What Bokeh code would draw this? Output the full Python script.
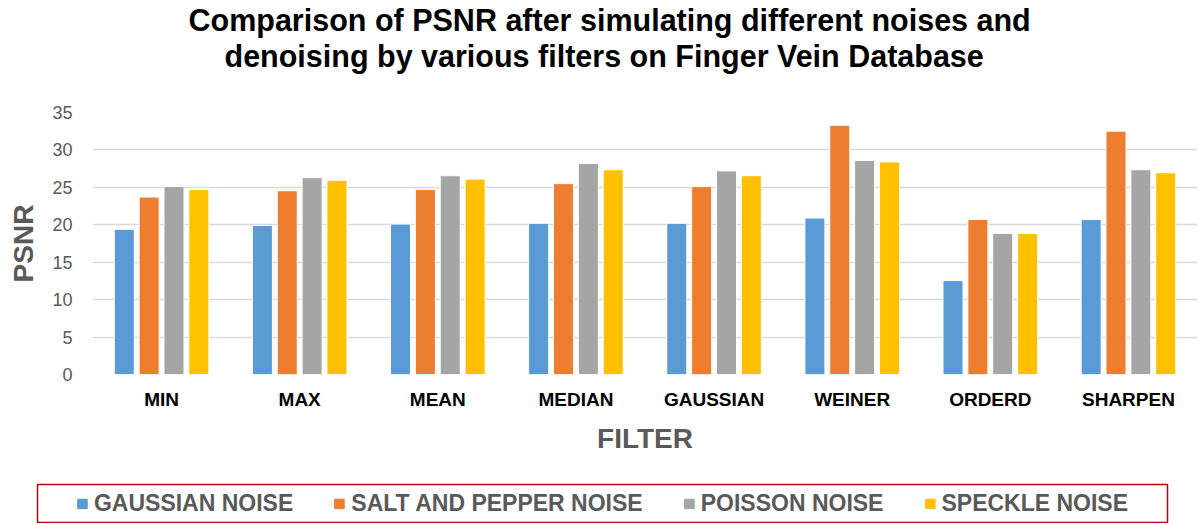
from bokeh.plotting import figure
from bokeh.models import ColumnDataSource, FactorRange, Legend, LegendItem, Title
from bokeh.transform import dodge
from bokeh.embed import file_html
from bokeh.resources import INLINE

filters = ["MIN", "MAX", "MEAN", "MEDIAN", "GAUSSIAN", "WEINER", "ORDERD", "SHARPEN"]
gaussian_noise = [19.4, 19.9, 20.1, 20.2, 20.2, 20.9, 12.55, 20.7]
salt_pepper_noise = [23.7, 24.55, 24.7, 25.5, 25.1, 33.3, 20.7, 32.5]
poisson_noise = [25.1, 26.3, 26.55, 28.2, 27.2, 28.6, 18.85, 27.35]
speckle_noise = [24.7, 25.95, 26.1, 27.35, 26.55, 28.4, 18.85, 26.95]
series_names = ["GAUSSIAN NOISE", "SALT AND PEPPER NOISE", "POISSON NOISE", "SPECKLE NOISE"]
colors = ["#5B9BD5", "#ED7D31", "#A5A5A5", "#FFC000"]
title_lines = ["Comparison of PSNR after simulating different noises and",
               "denoising by various filters  on Finger Vein Database"]

src = ColumnDataSource(dict(f=filters, g=gaussian_noise, s=salt_pepper_noise,
                            p=poisson_noise, k=speckle_noise))
cols = ["g", "s", "p", "k"]

p = figure(width=1197, height=483, x_range=FactorRange(*filters, range_padding=0),
           y_range=(0, 35), output_backend="svg", toolbar_location=None,
           min_border_left=92, min_border_right=0, min_border_top=111,
           min_border_bottom=109, title=None)

# spacer between the frame and the two title lines
p.add_layout(Title(text=" ", text_font_size="10px", standoff=27), "above")
for line, off in reversed(list(zip(title_lines, [96, 132]))):
    p.add_layout(Title(text=line, align="left", offset=off,
                       text_font="Liberation Sans", text_font_size="30.5px",
                       text_font_style="bold", text_color="#000000",
                       text_line_height=0.9, standoff=0), "above")

offsets = [-0.27, -0.09, 0.09, 0.27]
for c, off, col in zip(cols, offsets, colors):
    p.vbar(x=dodge("f", off, range=p.x_range), top=c, width=0.145, source=src,
           fill_color=col, line_color="white", line_width=1)

p.outline_line_color = None
p.xgrid.grid_line_color = None
p.ygrid.grid_line_color = "#D9D9D9"
p.ygrid.grid_line_width = 1.5

p.yaxis.ticker = [0, 5, 10, 15, 20, 25, 30, 35]
p.yaxis.axis_line_color = None
p.yaxis.major_tick_line_color = None
p.yaxis.minor_tick_line_color = None
p.yaxis.major_tick_out = 0
p.yaxis.major_label_text_font = "Liberation Sans"
p.yaxis.major_label_text_font_size = "18px"
p.yaxis.major_label_text_color = "#595959"
p.yaxis.major_label_standoff = 20
p.yaxis.axis_label = "PSNR"
p.yaxis.axis_label_text_font = "Liberation Sans"
p.yaxis.axis_label_text_font_size = "28px"
p.yaxis.axis_label_text_font_style = "bold"
p.yaxis.axis_label_text_color = "#595959"
p.yaxis.axis_label_standoff = 10

p.xaxis.axis_line_color = None
p.xaxis.major_tick_line_color = None
p.xaxis.minor_tick_line_color = None
p.xaxis.major_tick_out = 0
p.xaxis.major_label_text_font = "Liberation Sans"
p.xaxis.major_label_text_font_size = "19px"
p.xaxis.major_label_text_font_style = "bold"
p.xaxis.major_label_text_color = "#000000"
p.xaxis.major_label_standoff = 14
p.xaxis.axis_label = "FILTER"
p.xaxis.axis_label_text_font = "Liberation Sans"
p.xaxis.axis_label_text_font_size = "28px"
p.xaxis.axis_label_text_font_style = "bold"
p.xaxis.axis_label_text_color = "#595959"
p.xaxis.axis_label_standoff = 10

# legend strip: its frame outline is the red legend box; the proxy renderers are
# hidden, only their legend swatches are drawn
lg = figure(width=1197, height=40, output_backend="svg", toolbar_location=None,
            x_axis_type=None, y_axis_type=None,
            x_range=FactorRange(*filters), y_range=(0, 35),
            min_border_left=37, min_border_right=30, min_border_top=1,
            min_border_bottom=1)
lg.outline_line_color = "#C00000"
lg.outline_line_width = 1.5
lg.xgrid.visible = False
lg.ygrid.visible = False
items = []
for c, col, name in zip(cols, colors, series_names):
    r = lg.vbar(x="f", top=c, width=0.1, source=src, fill_color=col, line_color=col,
                visible=False)
    items.append(LegendItem(label=name, renderers=[r]))
legend = Legend(items=items, orientation="horizontal", location="center",
                glyph_width=12, glyph_height=12, label_standoff=6, spacing=40,
                padding=0, margin=0, inactive_fill_alpha=0,
                label_text_font="Liberation Sans", label_text_font_size="23px",
                label_text_font_style="bold", label_text_color="#595959",
                border_line_color=None, background_fill_alpha=0)
lg.add_layout(legend, "center")

open("out.html", "w").write(file_html([p, lg], INLINE))
